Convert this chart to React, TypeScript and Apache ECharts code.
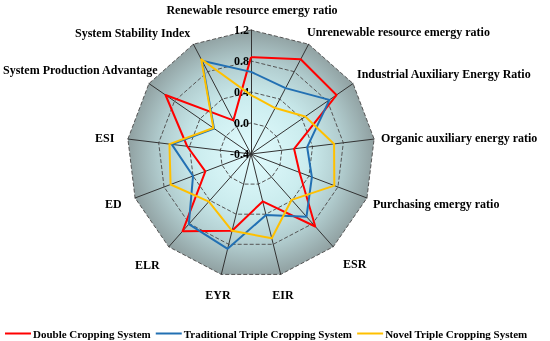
import React, { useEffect, useRef } from "react";
import * as echarts from "echarts";

// Indicators listed clockwise starting from the top
const indicatorNames = [
  "Renewable resource emergy ratio",
  "Unrenewable resource emergy ratio",
  "Industrial Auxiliary Energy Ratio",
  "Organic auxiliary energy ratio",
  "Purchasing emergy ratio",
  "ESR",
  "EIR",
  "EYR",
  "ELR",
  "ED",
  "ESI",
  "System Production Advantage",
  "System Stability Index",
];

const doubleCropping = [0.85, 0.98, 0.94, 0.16, 0.27, 0.85, 0.23, 0.62, 0.93, 0.23, 0.43, 0.94, 0.09];
const traditionalTriple = [0.66, 0.56, 0.83, 0.33, 0.44, 0.68, 0.41, 0.86, 0.81, 0.4, 0.63, 0.18, 0.96];
const novelTriple = [0.36, 0.27, 0.45, 0.68, 0.75, 0.39, 0.72, 0.62, 0.42, 0.71, 0.66, 0.19, 0.98];

const seriesNames = ["Double Cropping System", "Traditional Triple Cropping System", "Novel Triple Cropping System"];
const seriesColors = ["#ff0000", "#2270b3", "#ffc000"];

const axisMin = -0.4;
const axisMax = 1.2;
const axisStep = 0.4;

// Layout of the indicator names (same order as indicatorNames): [x, y, align]
const nameLayout: [number, number, string][] = [
  [252, 10, "center"],
  [307, 32, "left"],
  [357, 74, "left"],
  [381, 138, "left"],
  [373, 204, "left"],
  [343, 264, "left"],
  [283, 295, "center"],
  [218, 295, "center"],
  [135, 265, "left"],
  [105, 204, "left"],
  [95, 138, "left"],
  [3, 70, "left"],
  [75, 33, "left"],
];

// ECharts radar goes counter-clockwise; reorder so it appears clockwise
const ccw = <T,>(arr: T[]): T[] => [arr[0], ...arr.slice(1).reverse()];

const FONT = '"Times New Roman", "Liberation Serif", serif';

export default function App() {
  const ref = useRef<HTMLDivElement>(null);
  useEffect(() => {
    if (!ref.current) return;
    const chart = echarts.init(ref.current, null, { renderer: "svg" });
    const cx = 251;
    const cy = 154;
    const R = 124;
    const bg = {
      type: "radial",
      x: cx,
      y: cy,
      r: R,
      global: true,
      colorStops: [
        { offset: 0, color: "#e2fcfe" },
        { offset: 0.45, color: "#cbecee" },
        { offset: 0.75, color: "#b0cbcd" },
        { offset: 1, color: "#8f9fa0" },
      ],
    };
    const allData = [doubleCropping, traditionalTriple, novelTriple];
    chart.setOption({
      animation: false,
      radar: {
        center: [cx, cy],
        radius: R,
        startAngle: 90,
        shape: "polygon",
        splitNumber: 4,
        axisName: { show: false },
        indicator: ccw(indicatorNames).map((n) => ({ name: n, min: axisMin, max: axisMax })),
        splitLine: { lineStyle: { color: "#555", type: "dashed", width: 1 } },
        splitArea: { show: true, areaStyle: { color: [bg] } },
        axisLine: { lineStyle: { color: "#333", width: 1 } },
      },
      polar: { center: [cx, cy], radius: R },
      angleAxis: { show: false, startAngle: 90, min: 0, max: 360 },
      radiusAxis: {
        min: axisMin,
        max: axisMax,
        interval: axisStep,
        axisLine: { show: false },
        axisTick: { show: false },
        splitLine: { show: false },
        axisLabel: {
          show: true,
          margin: 2,
          color: "#000",
          fontWeight: "bold",
          fontSize: 12,
          fontFamily: FONT,
          formatter: (v: number) => v.toFixed(1),
        },
      },
      graphic: indicatorNames.map((n, i) => ({
        type: "text",
        x: nameLayout[i][0],
        y: nameLayout[i][1],
        silent: true,
        style: {
          text: n,
          fill: "#000",
          font: `bold 12px ${FONT}`,
          textAlign: nameLayout[i][2],
          textVerticalAlign: "middle",
        },
      })),
      legend: {
        bottom: 2,
        left: 5,
        width: 545,
        padding: 0,
        itemWidth: 26,
        itemHeight: 2,
        itemGap: 5,
        icon: "rect",
        textStyle: { color: "#000", fontWeight: "bold", fontSize: 11, fontFamily: FONT, padding: [0, 0, 0, -3] },
        data: seriesNames,
      },
      series: [
        {
          type: "radar",
          symbol: "none",
          data: allData.map((d, i) => ({
            name: seriesNames[i],
            value: ccw(d),
            lineStyle: { color: seriesColors[i], width: 2 },
            itemStyle: { color: seriesColors[i] },
          })),
        },
      ],
    });
    return () => chart.dispose();
  }, []);
  return <div ref={ref} style={{ position: "fixed", left: 0, top: 0, width: 550, height: 341 }} />;
}
